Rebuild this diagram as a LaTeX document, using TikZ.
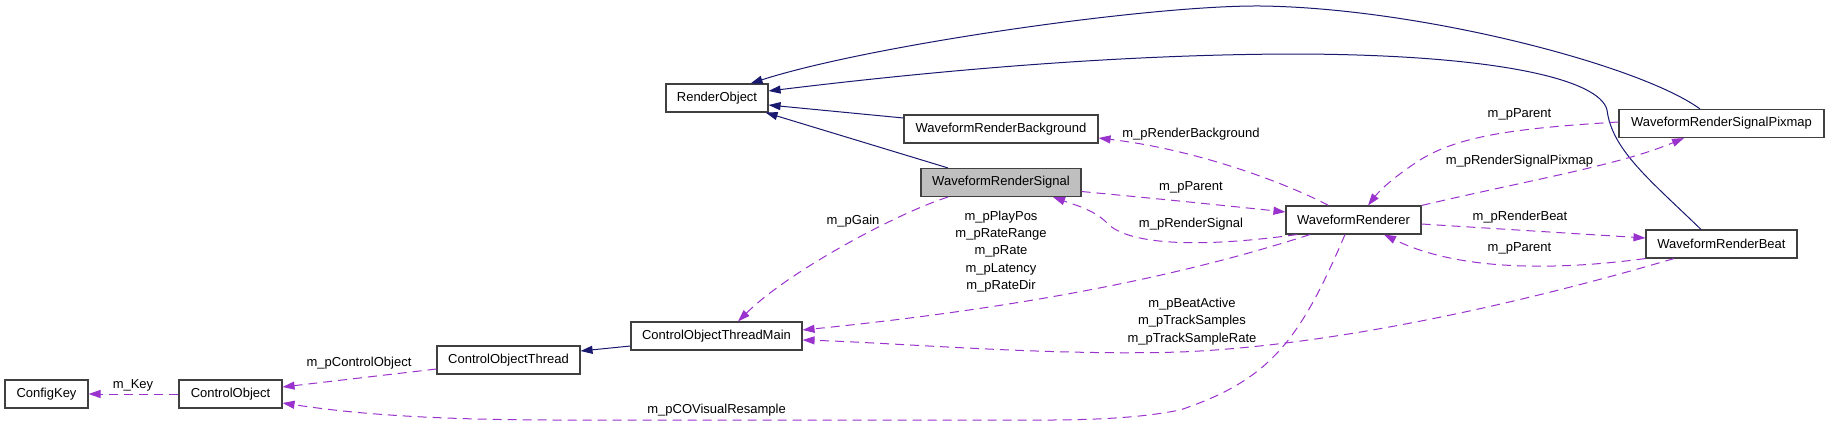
\documentclass[tikz,border=0pt]{standalone}
\usepackage{fontspec}
\setmainfont{Liberation Sans}
\usetikzlibrary{arrows.meta}
\definecolor{inh}{HTML}{191970}
\definecolor{use}{HTML}{9A32CD}
\definecolor{boxline}{HTML}{404040}
\begin{document}
\begin{tikzpicture}[x=1pt,y=-1pt,
  cls/.style={draw=boxline,line width=1.1pt,fill=white,inner sep=0pt,minimum height=28pt,
    font=\fontsize{13}{15}\selectfont},
  lbl/.style={inner sep=0pt,font=\fontsize{13}{17.4}\selectfont,align=center},
  inhedge/.style={draw=inh,line width=1pt,-{Triangle[length=12pt,width=8pt]}},
  useedge/.style={draw=use,line width=1pt,dash pattern=on 9pt off 6pt,-{Triangle[length=12pt,width=8pt]}}
]
\useasboundingbox (0,0) rectangle (1829,426);
\fill[white] (0,0) rectangle (1829,426);

% classes
\node[cls,minimum width=83pt]  (cfg)  at (46.5,394)   {ConfigKey};
\node[cls,minimum width=103pt] (co)   at (230.5,394)  {ControlObject};
\node[cls,minimum width=143pt] (cot)  at (508.5,360)  {ControlObjectThread};
\node[cls,minimum width=171pt] (cotm) at (716.5,336)  {ControlObjectThreadMain};
\node[cls,minimum width=102pt] (ro)   at (717,98)     {RenderObject};
\node[cls,minimum width=194pt] (wrbg) at (1001,129)   {WaveformRenderBackground};
\node[cls,minimum width=160pt,fill={rgb,255:red,191;green,191;blue,191}] (wrs) at (1001,182.5) {WaveformRenderSignal};
\node[cls,minimum width=135pt] (wr)   at (1353.5,220) {WaveformRenderer};
\node[cls,minimum width=205pt] (wrsp) at (1721.5,123.5) {WaveformRenderSignalPixmap};
\node[cls,minimum width=151pt] (wrb)  at (1721.5,244) {WaveformRenderBeat};

% inheritance
\draw[inhedge] ([xshift=-21.5pt]wrsp.north) .. controls (1640,65) and (1420,8) .. (1261,6)
   .. controls (1150,5) and (870,45) .. ([xshift=-18pt]ro.north east);
\draw[inhedge] ([xshift=-20.5pt]wrb.north) .. controls (1650,180) and (1612,150) .. (1607,110)
   .. controls (1600,80) and (1500,55) .. (1300,54)
   .. controls (1100,54) and (900,75) .. ([yshift=7pt]ro.east);
\draw[inhedge] ([yshift=11pt]wrbg.west) -- ([yshift=-7pt]ro.east);
\draw[inhedge] ([xshift=-53pt]wrs.north) -- ([xshift=-3pt]ro.south east);
\draw[inhedge] ([yshift=-10pt]cotm.west) -- ([yshift=9pt]cot.east);

% usage
\draw[useedge] ([xshift=-25pt]wr.north) .. controls (1290,185) and (1200,150) .. ([yshift=-9pt]wrbg.east);
\draw[useedge] ([yshift=-9pt]wrs.east) .. controls (1150,198) and (1220,205) .. ([yshift=8pt]wr.west);
\draw[useedge] ([xshift=-56.5pt]wr.south) .. controls (1200,248) and (1130,245) .. (1108,224)
   .. controls (1095,210) and (1075,205) .. ([xshift=52pt]wrs.south);
\draw[useedge] ([xshift=-53pt]wrs.south) .. controls (900,212) and (790,270) .. ([xshift=21.5pt]cotm.north);
\draw[useedge] ([xshift=-43.5pt]wr.south) .. controls (1200,270) and (1050,305) .. ([yshift=6pt]cotm.east);
\draw[useedge] ([xshift=-47.5pt]wrb.south) .. controls (1550,295) and (1350,345) .. (1180,352)
   .. controls (1050,356) and (900,343) .. ([yshift=-4pt]cotm.east);
\draw[useedge] ([xshift=-8.5pt]wr.south) .. controls (1300,340) and (1270,380) .. (1180,410)
   .. controls (1120,422) and (1050,420) .. (960,420) -- (560,420)
   .. controls (400,420) and (330,410) .. ([yshift=-9pt]co.east);
\draw[useedge] ([yshift=-9pt]cot.west) -- ([yshift=7pt]co.east);
\draw[useedge] (co.west) -- (cfg.east);
\draw[useedge] ([yshift=1.5pt]wrsp.west) .. controls (1520,128) and (1460,135) .. (1420,160)
   .. controls (1395,176) and (1380,190) .. ([xshift=14.5pt]wr.north);
\draw[useedge] (wr.north east) .. controls (1530,180) and (1620,165) .. ([xshift=-37.5pt]wrsp.south);
\draw[useedge] ([yshift=-4pt]wr.east) -- ([yshift=6pt]wrb.west);
\draw[useedge] (wrb.south west) .. controls (1560,270) and (1460,272) .. ([xshift=30.5pt]wr.south);

% labels
\node[lbl] (lkey)  at (133,385)   {m\_Key};
\node[lbl] (lcobj) at (359,363)   {m\_pControlObject};
\node[lbl] (lvis)  at (716.6,410) {m\_pCOVisualResample};
\node[lbl] (lgain) at (853,221)   {m\_pGain};
\node[lbl] (lplay) at (1001,251.5) {m\_pPlayPos\\m\_pRateRange\\m\_pRate\\m\_pLatency\\m\_pRateDir};
\node[lbl] (lbeat) at (1192,321.5) {m\_pBeatActive\\m\_pTrackSamples\\m\_pTrackSampleRate};
\node[lbl] (lrbg)  at (1191,134)  {m\_pRenderBackground};
\node[lbl] (lpar1) at (1191,187)  {m\_pParent};
\node[lbl] (lrsig) at (1191,223.7) {m\_pRenderSignal};
\node[lbl] (lpar2) at (1519.5,114) {m\_pParent};
\node[lbl] (lrsp)  at (1519.5,161) {m\_pRenderSignalPixmap};
\node[lbl] (lrbt)  at (1520,217)  {m\_pRenderBeat};
\node[lbl] (lpar3) at (1519.5,248) {m\_pParent};
\end{tikzpicture}
\end{document}
